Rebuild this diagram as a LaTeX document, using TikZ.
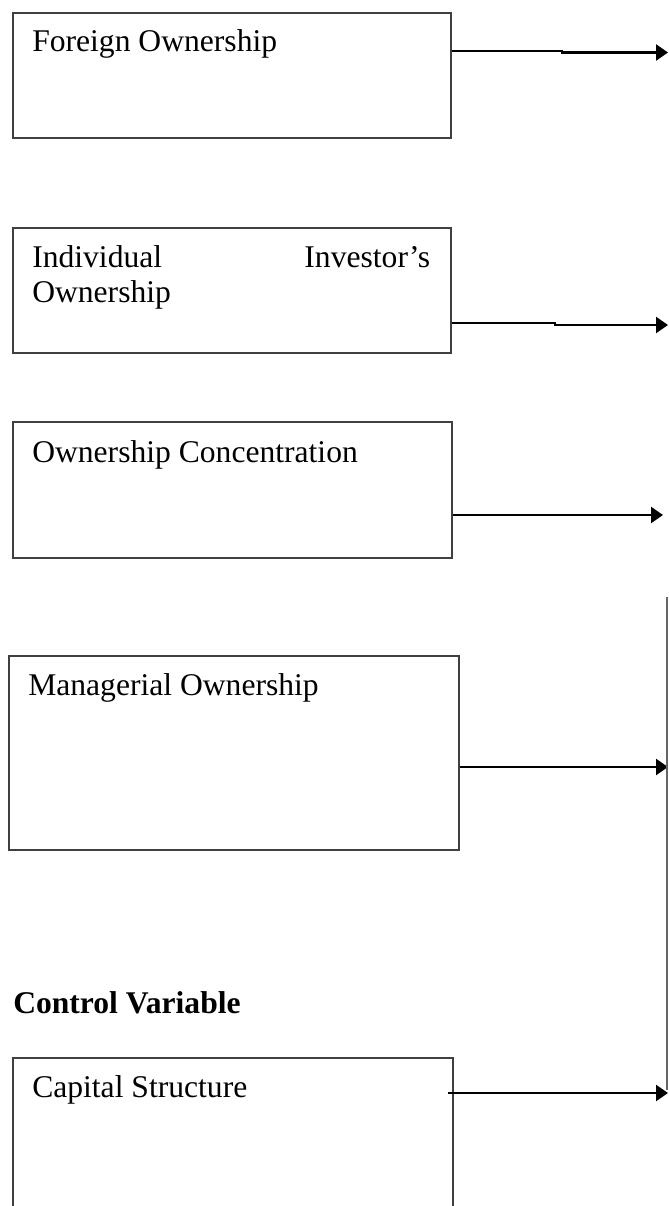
\documentclass[tikz,border=0pt]{standalone}
\usepackage{fontspec}
\setmainfont{Liberation Serif}
\usetikzlibrary{positioning}
\usetikzlibrary{arrows.meta}

\tikzset{
  varbox/.style={draw=black!75,line width=1.3pt,anchor=north west,inner sep=0pt},
  vartext/.style={anchor=base west,inner sep=0pt},
  link/.style={line width=1.8pt,-{Triangle[length=9pt,width=12pt]}}
}

\begin{document}
\begin{tikzpicture}[x=0.75pt,y=-0.75pt,font=\fontsize{23.7}{26.25}\selectfont]
 \useasboundingbox (0,0) rectangle (668,1206);
 \clip (0,0) rectangle (668,1206);
 % boxes
 \node[varbox,minimum width=328.5pt,minimum height=93.75pt] (fo) at (12,12) {};
 \node[varbox,minimum width=328.5pt,minimum height=93.75pt] (io) at (12,227) {};
 \node[varbox,minimum width=329.25pt,minimum height=102pt] (oc) at (12,421) {};
 \node[varbox,minimum width=337.5pt,minimum height=145.5pt] (mo) at (8,655) {};
 \node[varbox,minimum width=330pt,minimum height=130pt] (cs) at (12,1057) {};
 % texts
 \node[vartext] (fotext) at (32,52) {Foreign Ownership};
 \node[vartext,text width=298.5pt,align=left] (iotext) at (32,267) {Individual\hfill Investor's\\Ownership};
 \node[vartext] (octext) at (32,462) {Ownership Concentration};
 \node[vartext] (motext) at (28,695) {Managerial Ownership};
 \node[vartext,font=\fontsize{23.7}{26.25}\selectfont\bfseries] (cv) at (13,1013) {Control Variable};
 \node[vartext] (cstext) at (32,1097) {Capital Structure};
 % arrows
 \coordinate (j1) at (562,51);
 \coordinate (t1) at (668,52.5);
 \coordinate (j2) at (555,323);
 \coordinate (t2) at (668,325);
 \coordinate (t3) at (663,515);
 \coordinate (t4) at (668,767);
 \coordinate (t5) at (668,1093);
 \draw[link] (fo.east |- j1) -- (j1) -- ++(0,1.5) -- (t1);
 \draw[link] (io.east |- j2) -- (j2) -- ++(0,2) -- (t2);
 \draw[link] (oc.east |- t3) -- (t3);
 \draw[link] (mo.east |- t4) -- (t4);
 \draw[link] ([xshift=-4.5pt]cs.east |- t5) -- (t5);
 \coordinate (vtop) at (667,597);
 \coordinate (vbot) at (667,1090);
 \draw[black!60,line width=0.9pt] (vtop) -- (vbot);
\end{tikzpicture}
\end{document}
